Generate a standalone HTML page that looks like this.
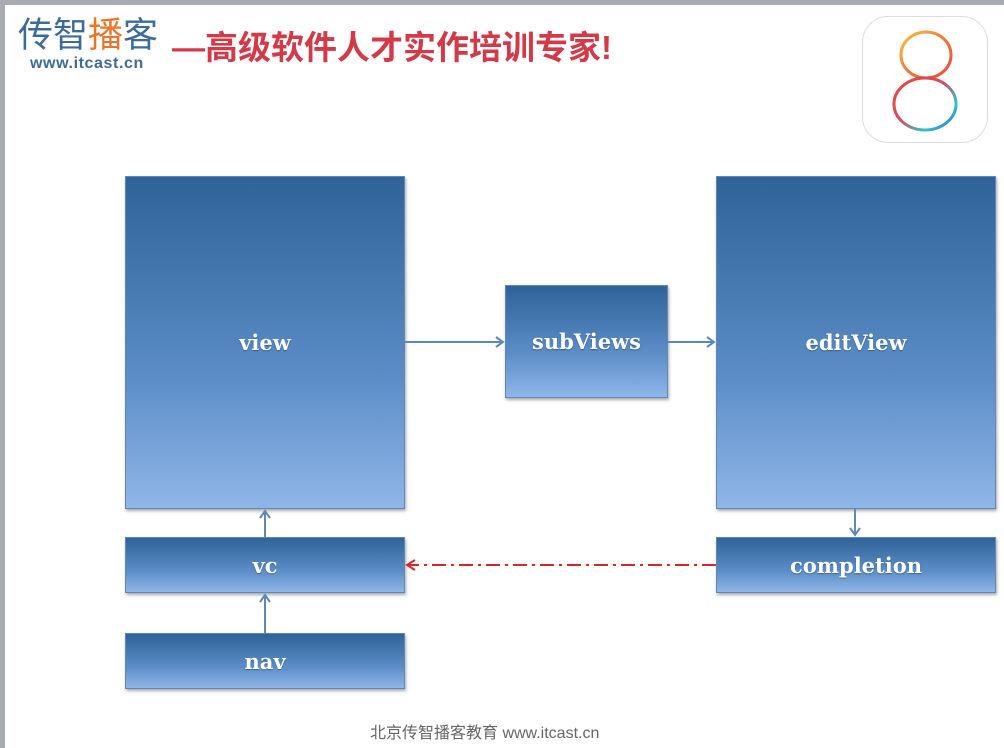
<!DOCTYPE html>
<html><head><meta charset="utf-8"><style>
body{margin:0;width:1004px;height:748px;overflow:hidden;background:#fff;position:relative;font-family:"Liberation Sans","Noto Sans CJK SC",sans-serif}
.frame{position:absolute;left:0;top:0;width:1004px;height:748px;border-top:5px solid #a9abb2;border-left:5px solid #a9abb2;box-sizing:border-box}
.b{position:absolute;box-sizing:border-box;border:1px solid #5f88b8;background:linear-gradient(#2f6398,#5b8cc6 60%,#8fb6e8);box-shadow:1px 2px 3px rgba(0,0,0,.35);color:#fff;font-family:"DejaVu Serif","Liberation Serif",serif;font-weight:bold;font-size:21px;display:flex;align-items:center;justify-content:center;text-shadow:0 1px 1px rgba(0,0,0,.3)}
</style></head><body>
<div class="frame"></div>
<div style="position:absolute;left:18px;top:15px;font-size:35px;line-height:42px;color:#3e6a98;white-space:nowrap">传智<span style="color:#e8762a">播</span>客</div>
<div style="position:absolute;left:30px;top:55px;font-size:16px;font-weight:bold;color:#3e6a98;letter-spacing:0.6px">www.itcast.cn</div>
<div style="position:absolute;left:172px;top:28px;font-size:33px;line-height:40px;font-weight:bold;color:#d23a48;white-space:nowrap">—高级软件人才实作培训专家!</div>
<div style="position:absolute;left:862px;top:16px;width:126px;height:127px;border:1px solid #ddd;border-radius:26px;box-sizing:border-box;background:#fff"></div>
<svg style="position:absolute;left:862px;top:16px" width="126" height="127">
<defs><linearGradient id="g" x1="0" y1="0" x2="1" y2="1"><stop offset="0" stop-color="#f7c342"/><stop offset=".5" stop-color="#ef7a3a"/><stop offset="1" stop-color="#e9483b"/></linearGradient>
<linearGradient id="g2" x1="0" y1="0" x2="1" y2="1"><stop offset="0" stop-color="#e9483b"/><stop offset=".45" stop-color="#d84a60"/><stop offset=".75" stop-color="#2ec7c0"/><stop offset="1" stop-color="#3a5be0"/></linearGradient></defs>
<ellipse cx="64" cy="39" rx="25" ry="23" fill="none" stroke="url(#g)" stroke-width="3"/>
<ellipse cx="63" cy="88" rx="31" ry="26" fill="none" stroke="url(#g2)" stroke-width="3"/>
</svg>
<div class="b" style="left:125px;top:176px;width:280px;height:333px">view</div>
<div class="b" style="left:505px;top:285px;width:163px;height:113px">subViews</div>
<div class="b" style="left:716px;top:176px;width:280px;height:333px">editView</div>
<div class="b" style="left:125px;top:537px;width:280px;height:56px">vc</div>
<div class="b" style="left:125px;top:633px;width:280px;height:56px">nav</div>
<div class="b" style="left:716px;top:537px;width:280px;height:56px">completion</div>
<svg style="position:absolute;left:0;top:0" width="1004" height="748">
<g stroke="#5f88b8" stroke-width="2" fill="none">
<line x1="405" y1="342" x2="503" y2="342"/><polyline points="496,337 503,342 496,347"/>
<line x1="668" y1="342" x2="714" y2="342"/><polyline points="707,337 714,342 707,347"/>
<line x1="265" y1="537" x2="265" y2="511"/><polyline points="260,518 265,511 270,518"/>
<line x1="265" y1="633" x2="265" y2="595"/><polyline points="260,602 265,595 270,602"/>
<line x1="855" y1="509" x2="855" y2="535"/><polyline points="850,528 855,535 860,528"/>
</g>
<line x1="716" y1="565" x2="408" y2="565" stroke="#d8262c" stroke-width="2" stroke-dasharray="14,5,3,5"/>
<polyline points="415,560 407,565 415,570" stroke="#d8262c" stroke-width="2" fill="none"/>
</svg>
<div style="position:absolute;left:370px;top:719px;font-size:16px;color:#666;white-space:nowrap">北京传智播客教育 www.itcast.cn</div>
</body></html>
